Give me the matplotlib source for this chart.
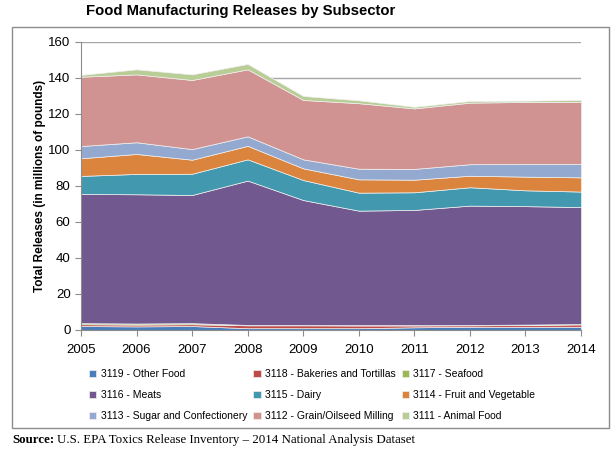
import numpy as np
import matplotlib.pyplot as plt
from matplotlib.patches import Rectangle

years = [2005, 2006, 2007, 2008, 2009, 2010, 2011, 2012, 2013, 2014]

labels = ['3119 - Other Food', '3118 - Bakeries and Tortillas', '3117 - Seafood',
          '3116 - Meats', '3115 - Dairy', '3114 - Fruit and Vegetable',
          '3113 - Sugar and Confectionery', '3112 - Grain/Oilseed Milling', '3111 - Animal Food']

# millions of pounds
other_food = [2.2, 2.0, 2.2, 1.0, 1.0, 1.0, 1.5, 1.8, 1.8, 1.8]
bakeries = [1.0, 1.0, 1.0, 1.6, 1.6, 1.5, 1.0, 0.8, 1.0, 1.3]
seafood = [0.6, 0.6, 0.6, 0.2, 0.2, 0.2, 0.2, 0.2, 0.2, 0.2]
meats = [71.8, 71.8, 71.2, 80.2, 69.4, 63.6, 64.0, 66.3, 65.8, 65.0]
dairy = [10.0, 11.3, 11.8, 11.8, 11.1, 10.0, 9.8, 10.2, 8.8, 8.6]
fruit_veg = [9.8, 11.1, 7.8, 7.5, 6.5, 7.4, 7.0, 6.4, 7.6, 7.9]
sugar = [6.8, 6.5, 5.9, 5.3, 5.0, 5.9, 6.0, 6.4, 7.0, 7.4]
grain = [38.5, 37.7, 38.4, 37.2, 33.0, 36.4, 33.6, 34.2, 34.5, 34.5]
animal_food = [1.0, 2.8, 3.1, 3.0, 2.2, 1.6, 0.9, 0.9, 0.7, 1.1]

colors = ['#4A7EBB', '#BE4B48', '#98B954', '#71588F', '#4198AF',
          '#DB843D', '#93A9CF', '#D19392', '#B9CD96']

plt.rcParams['font.family'] = ['Liberation Sans', 'DejaVu Sans']

fig = plt.figure(figsize=(6.16, 4.55), dpi=100)
ax = fig.add_axes([81 / 616, 1 - 330 / 455, 500 / 616, 288 / 455])

series = [other_food, bakeries, seafood, meats, dairy, fruit_veg, sugar, grain, animal_food]
polys = ax.stackplot(years, *series, colors=colors, labels=labels,
                     edgecolor='#F0F0F0', linewidth=0.5)

ax.set_xlim(2005, 2014)
ax.set_ylim(0, 160)
ax.set_xticks(years)
ax.set_yticks(np.arange(0, 161, 20))
ax.yaxis.grid(True, color='#A6A6A6', linewidth=1.0)
ax.set_axisbelow(True)
for s in ['top', 'right']:
    ax.spines[s].set_visible(False)
for s in ['left', 'bottom']:
    ax.spines[s].set_color('#8C8C8C')
ax.tick_params(axis='both', direction='out', color='#8C8C8C', length=4, labelsize=9.5)
ax.tick_params(axis='x', pad=6)
ax.set_ylabel('Total Releases (in millions of pounds)', fontsize=8.5, fontweight='bold', labelpad=2)

# legend, row-wise like the original
order = [0, 3, 6, 1, 4, 7, 2, 5, 8]
handles = [polys[i] for i in order]
leg_labels = [labels[i] for i in order]
fig.legend(handles, leg_labels, ncol=3, loc='upper left', bbox_to_anchor=(85 / 616, 1 - 365 / 455),
           frameon=False, fontsize=7.5, handlelength=0.7, handleheight=0.7, handletextpad=0.4,
           columnspacing=0.6, labelspacing=1.05, borderaxespad=0)

# outer frame
fig.patches.append(Rectangle((12 / 616, 1 - 428 / 455), 597 / 616, 401 / 455,
                             transform=fig.transFigure, fill=False, edgecolor='#8C8C8C', linewidth=1))

fig.text(241 / 616, 1 - 11 / 455, 'Food Manufacturing Releases by Subsector',
         ha='center', va='center', fontsize=10.7, fontweight='bold')
fig.text(12 / 616, 1 - 440 / 455, 'Source:', ha='left', va='center', fontsize=9.3,
         fontweight='bold', family='Liberation Serif')
fig.text(57 / 616, 1 - 440 / 455, 'U.S. EPA Toxics Release Inventory \u2013 2014 National Analysis Dataset',
         ha='left', va='center', fontsize=9.3, family='Liberation Serif')

fig.savefig('out.png', dpi=100)
